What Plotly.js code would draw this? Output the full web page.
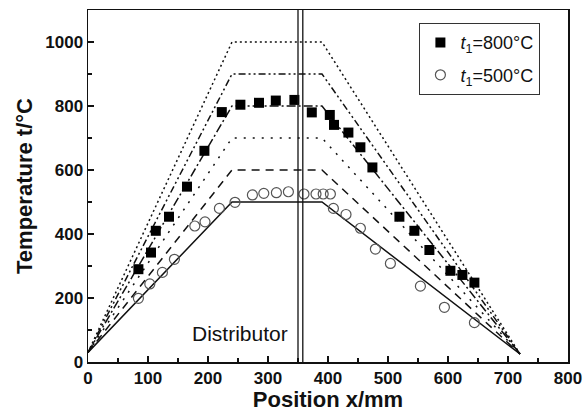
<!DOCTYPE html>
<html>
<head>
<meta charset="utf-8">
<script src="https://cdn.plot.ly/plotly-3.0.1.min.js"></script>
<style>html,body{margin:0;padding:0;background:#fff}#chart{width:583px;height:412px}</style>
</head>
<body>
<div id="chart"></div>
<script>
// Model lines (trapezoids)
const lineX = [0, 240, 390, 720];
const line500 = [30, 500, 500, 25];
const line600 = [30, 600, 600, 25];
const line700 = [30, 700, 700, 25];
const line800 = [30, 800, 800, 25];
const line900 = [30, 900, 900, 25];
const line1000 = [30, 1000, 1000, 25];

// Measured points t1 = 800 C
const sqX = [84,105,113,135,165,194,223,254,285,313,344,373,403,410,434,454,474,519,544,569,604,624,644];
const sqY = [290,342,410,454,548,660,781,804,810,817,819,780,772,741,717,671,608,454,410,350,285,272,248];

// Measured points t1 = 500 C
const ciX = [84,103,124,144,178,195,219,245,274,293,314,334,360,380,392,404,409,430,454,479,504,554,594,644];
const ciY = [199,244,280,321,425,438,480,499,522,527,529,532,525,525,525,525,480,461,418,353,308,237,171,123];

const distributorX = [350, 358];

const lineStyle = (y, dash) => ({
  x: lineX, y: y, mode: 'lines', showlegend: false, hoverinfo: 'skip',
  line: {color: '#111', width: 1.5, dash: dash}
});

const traces = [
  lineStyle(line500, 'solid'),
  lineStyle(line600, '8px,6px'),
  lineStyle(line700, '2px,7px'),
  lineStyle(line800, '9px,3px,2px,3px'),
  lineStyle(line900, '7px,3px,2px,3px,2px,3px'),
  lineStyle(line1000, '2px,3px'),
  {x: sqX, y: sqY, mode: 'markers', name: '<i>t</i><sub>1</sub>=800°C', legendgroup: 'a',
   marker: {symbol: 'square', size: 10, color: '#000'}},
  {x: ciX, y: ciY, mode: 'markers', name: '<i>t</i><sub>1</sub>=500°C', legendgroup: 'b',
   marker: {symbol: 'circle-open', size: 10, color: '#555', line: {width: 1.2, color: '#555'}}}
];

const shapes = distributorX.map(v => ({
  type: 'line', xref: 'x', yref: 'paper', x0: v, x1: v, y0: 0, y1: 1,
  line: {color: '#111', width: 1.3}
}));

const axisFont = {family: 'Liberation Sans, Arial, sans-serif', size: 17, color: '#111', weight: 'bold'};
const titleFont = {family: 'Liberation Sans, Arial, sans-serif', size: 22, color: '#111', weight: 'bold'};

const layout = {
  width: 583, height: 412,
  margin: {l: 88, r: 15, t: 10, b: 50},
  paper_bgcolor: '#fff', plot_bgcolor: '#fff',
  showlegend: true,
  legend: {x: 0.69, y: 0.963, xanchor: 'left', yanchor: 'top',
    bordercolor: '#333', borderwidth: 1.2, bgcolor: '#fff', traceorder: 'grouped',
    font: {family: 'Liberation Sans, Arial, sans-serif', size: 18, color: '#111'},
    tracegroupgap: 6},
  xaxis: {range: [0, 800], dtick: 100, tick0: 0, ticks: 'inside', ticklen: 6, tickwidth: 1.2,
    tickcolor: '#111', showline: true, linecolor: '#111', linewidth: 1.5, mirror: true,
    showgrid: false, zeroline: false, tickfont: axisFont,
    minor: {dtick: 50, ticks: 'inside', ticklen: 4, tickcolor: '#111', showgrid: false},
    title: {text: 'Position x/mm', font: titleFont, standoff: 4}},
  yaxis: {range: [0, 1100], dtick: 200, tick0: 0, ticks: 'inside', ticklen: 6, tickwidth: 1.2,
    tickcolor: '#111', showline: true, linecolor: '#111', linewidth: 1.5, mirror: true,
    showgrid: false, zeroline: false, tickfont: axisFont,
    minor: {dtick: 100, ticks: 'inside', ticklen: 4, tickcolor: '#111', showgrid: false},
    title: {text: 'Temperature t/°C', font: titleFont, standoff: 6}},
  shapes: shapes,
  annotations: [{x: 253, y: 90, xref: 'x', yref: 'y', text: 'Distributor', showarrow: false,
    font: {family: 'Liberation Sans, Arial, sans-serif', size: 21, color: '#111'}}]
};

Plotly.newPlot('chart', traces, layout, {displayModeBar: false, staticPlot: true});
</script>
</body>
</html>
